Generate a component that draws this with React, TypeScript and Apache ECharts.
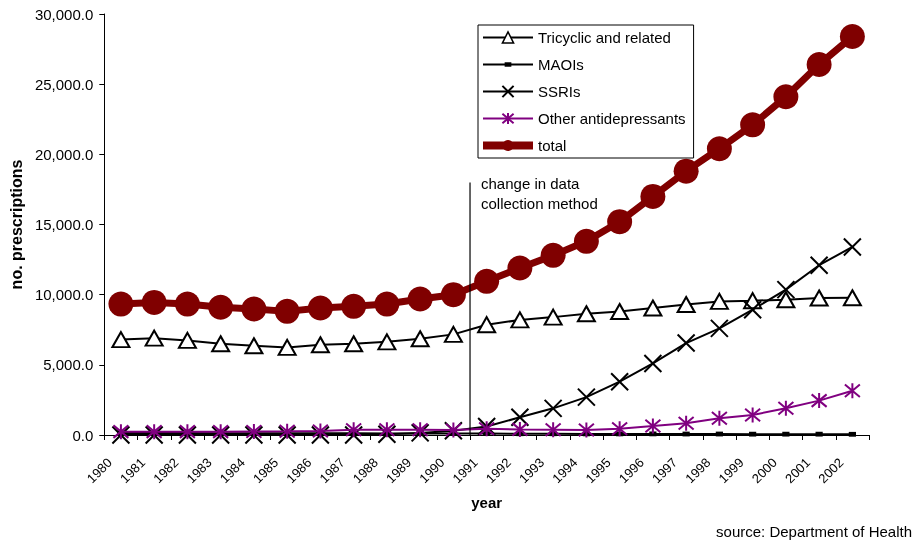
import React, { useEffect, useRef } from 'react';
import * as echarts from 'echarts';

const years = ['1980', '1981', '1982', '1983', '1984', '1985', '1986', '1987', '1988', '1989', '1990', '1991', '1992', '1993', '1994', '1995', '1996', '1997', '1998', '1999', '2000', '2001', '2002'];
const tricyclic = [6800, 6900, 6740, 6500, 6360, 6240, 6430, 6500, 6640, 6860, 7170, 7860, 8200, 8400, 8640, 8800, 9050, 9300, 9520, 9570, 9640, 9760, 9780];
const maois = [150, 140, 140, 130, 130, 120, 120, 120, 110, 110, 100, 100, 90, 90, 80, 80, 80, 70, 70, 60, 60, 60, 50];
const ssris = [0, 0, 0, 0, 0, 0, 0, 0, 50, 150, 300, 600, 1260, 1900, 2700, 3800, 5100, 6550, 7600, 8930, 10360, 12100, 13400];
const others = [240, 240, 240, 240, 250, 260, 290, 380, 380, 380, 360, 450, 400, 380, 360, 450, 640, 830, 1190, 1430, 1900, 2450, 3150];
const total = [9330, 9450, 9330, 9100, 8980, 8810, 9050, 9170, 9330, 9690, 10000, 10950, 11900, 12800, 13800, 15200, 17000, 18800, 20400, 22100, 24100, 26400, 28400];
const yTicks = { min: 0, max: 30000, interval: 5000 };
const seriesNames = ['Tricyclic and related', 'MAOIs', 'SSRIs', 'Other antidepressants', 'total'];
const annotationYears = ['1990', '1991'];
const annotationTop = 18000;
const annotationText = 'change in data\ncollection method';
const sourceText = 'source: Department of Health';

const FONT = '"Liberation Sans", Arial, sans-serif';
const CROSS = 'path://M0,0L10,10M10,0L0,10';
const STAR = 'path://M0,0L10,10M10,0L0,10M5,-1L5,11';
const DASH = 'path://M0,0M2,3L8,3L8,7L2,7ZM10,10';

export default function App() {
  const ref = useRef<HTMLDivElement>(null);
  useEffect(() => {
    if (!ref.current) return;
    const chart = echarts.init(ref.current, undefined, { renderer: 'svg' });
    const option: any = {
      animation: false,
      textStyle: { fontFamily: FONT, color: '#000' },
      grid: { left: 103, right: 45, top: 14, bottom: 106, containLabel: false },
      legend: {
        orient: 'vertical',
        left: 478,
        top: 25,
        itemWidth: 50,
        itemHeight: 14,
        itemGap: 12,
        padding: [5, 8, 5, 1],
        borderColor: '#000',
        borderWidth: 1,
        backgroundColor: '#fff',
        textStyle: { fontSize: 15, color: '#000', fontFamily: FONT },
        data: [
          { name: seriesNames[0], itemStyle: { color: '#fff', borderColor: '#000', borderWidth: 1.5 }, lineStyle: { width: 2, color: '#000' } },
          { name: seriesNames[1], itemStyle: { color: '#000', borderWidth: 0 }, lineStyle: { width: 2, color: '#000' } },
          { name: seriesNames[2], itemStyle: { color: '#000', borderColor: '#000', borderWidth: 2 }, lineStyle: { width: 2, color: '#000' } },
          { name: seriesNames[3], itemStyle: { color: '#800080', borderColor: '#800080', borderWidth: 2 }, lineStyle: { width: 2, color: '#800080' } },
          { name: seriesNames[4], itemStyle: { color: '#800000', borderWidth: 0 }, lineStyle: { width: 8, color: '#800000' } },
        ],
      },
      xAxis: {
        type: 'category',
        data: years,
        boundaryGap: true,
        axisLine: { lineStyle: { color: '#000', width: 1 } },
        axisTick: { show: true, length: 5, interval: 0, lineStyle: { color: '#000' } },
        axisLabel: { rotate: 45, interval: 0, fontSize: 13, color: '#000', margin: 14, padding: [0, 16, 0, 0], fontFamily: FONT },
        splitLine: { show: false },
        name: 'year',
        nameLocation: 'middle',
        nameGap: 60,
        nameTextStyle: { fontWeight: 'bold', fontSize: 15, color: '#000', fontFamily: FONT },
      },
      yAxis: {
        type: 'value',
        min: yTicks.min,
        max: yTicks.max,
        interval: yTicks.interval,
        axisLine: { show: true, lineStyle: { color: '#000', width: 1 } },
        axisTick: { show: true, length: 5, lineStyle: { color: '#000' } },
        splitLine: { show: false },
        axisLabel: {
          fontSize: 15,
          color: '#000',
          margin: 11,
          fontFamily: FONT,
          formatter: (v: number) => v.toLocaleString('en-US', { minimumFractionDigits: 1, maximumFractionDigits: 1 }),
        },
        name: 'no. prescriptions',
        nameLocation: 'middle',
        nameGap: 80,
        nameRotate: 90,
        nameTextStyle: { fontWeight: 'bold', fontSize: 16, color: '#000', fontFamily: FONT },
      },
      series: [
        {
          name: seriesNames[1], type: 'line', data: maois, symbol: DASH, symbolSize: 12,
          itemStyle: { color: '#000' }, lineStyle: { color: '#000', width: 2 }, z: 2,
        },
        {
          name: seriesNames[0], type: 'line', data: tricyclic, symbol: 'triangle', symbolSize: [17, 15],
          itemStyle: { color: '#fff', borderColor: '#000', borderWidth: 2 }, lineStyle: { color: '#000', width: 2 }, z: 3,
        },
        {
          name: seriesNames[2], type: 'line', data: ssris, symbol: CROSS, symbolSize: 17,
          itemStyle: { color: '#000', borderColor: '#000', borderWidth: 2 }, lineStyle: { color: '#000', width: 2 }, z: 3,
        },
        {
          name: seriesNames[3], type: 'line', data: others, symbol: STAR, symbolSize: 15,
          itemStyle: { color: '#800080', borderColor: '#800080', borderWidth: 2 }, lineStyle: { color: '#800080', width: 2 }, z: 4,
        },
        {
          name: seriesNames[4], type: 'line', data: total, symbol: 'circle', symbolSize: 25,
          itemStyle: { color: '#800000' }, lineStyle: { color: '#800000', width: 7 }, z: 5,
        },
      ].map((s) => ({ ...s, emphasis: { disabled: true } })),
    };
    chart.setOption(option);
    const pA = chart.convertToPixel({ gridIndex: 0 }, [annotationYears[0], annotationTop]) as number[];
    const pB = chart.convertToPixel({ gridIndex: 0 }, [annotationYears[1], 0]) as number[];
    const xMid = (pA[0] + pB[0]) / 2;
    chart.setOption({
      graphic: [
        {
          type: 'line', z: 50,
          shape: { x1: xMid, y1: pA[1], x2: xMid, y2: pB[1] },
          style: { stroke: '#000', lineWidth: 1.2 },
        },
        {
          type: 'text', z: 50, x: xMid + 11, y: pA[1] - 9,
          style: { text: annotationText, fontSize: 15, lineHeight: 20, fill: '#000', fontFamily: FONT },
        },
        {
          type: 'text', right: 2, top: 524,
          style: { text: sourceText, fontSize: 15, fill: '#000', fontFamily: FONT },
        },
      ],
    });
    return () => chart.dispose();
  }, []);
  return <div ref={ref} style={{ position: 'fixed', left: 0, top: 0, width: 914, height: 541 }} />;
}
